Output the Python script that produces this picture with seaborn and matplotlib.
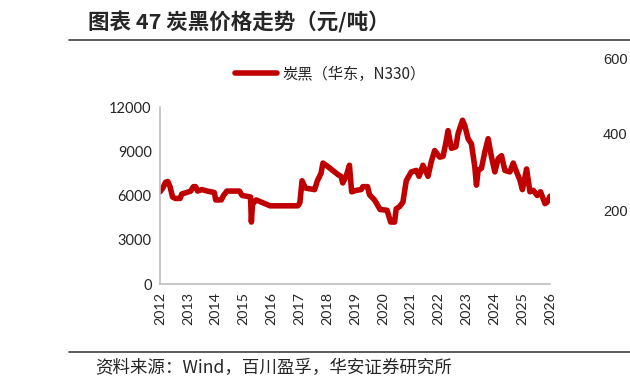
import numpy as np
import pandas as pd
import seaborn as sns
import matplotlib.pyplot as plt

# 炭黑（华东，N330）价格，元/吨，按年份小数表示时间
dates = [2012.00, 2012.10, 2012.20, 2012.28, 2012.36, 2012.45, 2012.55, 2012.72, 2012.78, 2012.95,
         2013.10, 2013.20, 2013.28, 2013.35, 2013.50, 2013.70, 2013.95, 2014.00, 2014.20, 2014.28,
         2014.40, 2014.85, 2014.95, 2015.25, 2015.28, 2015.32, 2015.45, 2015.70, 2015.95, 2016.95,
         2017.02, 2017.10, 2017.22, 2017.55, 2017.65, 2017.78, 2017.85, 2018.00, 2018.20, 2018.40,
         2018.50, 2018.56, 2018.68, 2018.80, 2018.88, 2019.05, 2019.22, 2019.28, 2019.45, 2019.52,
         2019.70, 2019.90, 2020.15, 2020.28, 2020.42, 2020.48, 2020.60, 2020.72, 2020.84, 2021.02,
         2021.20, 2021.30, 2021.44, 2021.62, 2021.74, 2021.86, 2022.04, 2022.16, 2022.28, 2022.34,
         2022.46, 2022.62, 2022.70, 2022.86, 2022.94, 2023.06, 2023.18, 2023.30, 2023.36, 2023.42,
         2023.54, 2023.66, 2023.78, 2023.90, 2024.02, 2024.14, 2024.26, 2024.38, 2024.56, 2024.68,
         2024.80, 2024.92, 2025.01, 2025.16, 2025.28, 2025.40, 2025.54, 2025.66, 2025.82, 2025.90,
         2026.00]
prices = [6250, 6500, 6900, 6950, 6600, 5900, 5800, 5800, 6100, 6200,
          6300, 6600, 6600, 6300, 6400, 6300, 6200, 5700, 5700, 6000,
          6300, 6300, 6000, 5900, 4200, 5400, 5700, 5500, 5300, 5300,
          5500, 7000, 6500, 6400, 7000, 7500, 8200, 8000, 7700, 7400,
          7300, 6850, 7300, 8050, 6250, 6350, 6400, 6600, 6600, 6050,
          5700, 5050, 5000, 4200, 4200, 5100, 5250, 5550, 7000, 7600,
          7700, 7300, 8050, 7300, 8300, 9050, 8600, 8650, 9750, 10400,
          9200, 9300, 10200, 11100, 10750, 9850, 9500, 7950, 6700, 7700,
          7850, 8950, 9850, 8600, 7600, 8500, 8700, 7700, 7600, 8200,
          7600, 7050, 6400, 7800, 6250, 6350, 6000, 6250, 5450, 5550,
          5950]
years = list(range(2012, 2027))
yticks = [0, 3000, 6000, 9000, 12000]
series_name = '炭黑（华东，N330）'

df = pd.DataFrame({'date': dates, 'price': prices, 'series': series_name})

sns.set_style('white')
plt.rcParams['font.family'] = ['Noto Sans CJK SC', 'DejaVu Sans']
plt.rcParams['axes.unicode_minus'] = False

fig = plt.figure(figsize=(6.3, 3.92), dpi=100)
ax = fig.add_axes([160 / 630, 1 - 284 / 392, 390 / 630, 177 / 392])

sns.lineplot(data=df, x='date', y='price', hue='series', palette=['#C00000'],
             linewidth=4.0, ax=ax, legend=False)

tick_font = ['Lato', 'DejaVu Sans']
ax.set_xlim(2012, 2026)
ax.set_ylim(0, 12000)
ax.set_xticks(years)
ax.set_xticklabels([str(y) for y in years], rotation=90, fontsize=10.3, family=tick_font)
ax.set_yticks(yticks)
ax.set_yticklabels([str(v) for v in yticks], fontsize=10.5, family=tick_font)
ax.set_xlabel('')
ax.set_ylabel('')
for s in ['top', 'right']:
    ax.spines[s].set_visible(False)
for s in ['left', 'bottom']:
    ax.spines[s].set_color('#BFBFBF')
    ax.spines[s].set_linewidth(1.2)
ax.tick_params(axis='both', direction='out', length=4, width=1, color='#BFBFBF', pad=2)

handle = plt.Line2D([], [], color='#C00000', linewidth=4.0)
fig.legend([handle], [series_name], loc='center', bbox_to_anchor=(330 / 630, 1 - 74 / 392),
           frameon=False, fontsize=11, handlelength=2.8, handletextpad=0.3)

# 页面标题与分隔线
fig.text(88 / 630, 1 - 22 / 392, '图表 47 炭黑价格走势（元/吨）', fontsize=15.5, fontweight='bold',
         va='center', ha='left')
fig.add_artist(plt.Line2D([69 / 630, 1], [1 - 40 / 392, 1 - 40 / 392], color='#404040', linewidth=1.2))
fig.add_artist(plt.Line2D([69 / 630, 1], [1 - 352 / 392, 1 - 352 / 392], color='#404040', linewidth=1.2))
fig.text(95 / 630, 1 - 368 / 392, '资料来源：Wind，百川盈孚，华安证券研究所', fontsize=12.6,
         va='center', ha='left')

# 右侧相邻图表的残留刻度
for lab, yy in [('600', 60), ('400', 135), ('200', 212)]:
    fig.text(603 / 630, 1 - yy / 392, lab, fontsize=10.5, va='center', ha='left',
             family=['Liberation Sans', 'DejaVu Sans'])

fig.savefig('out.png', dpi=100)
